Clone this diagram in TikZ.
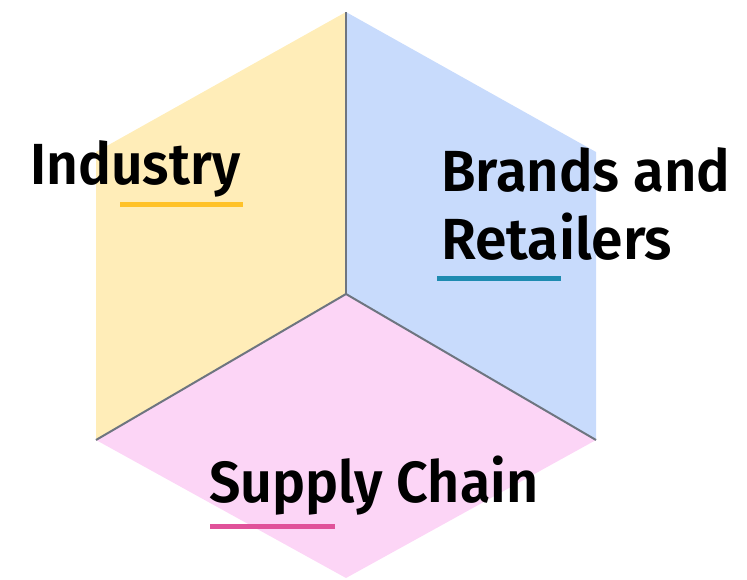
\documentclass[tikz,border=0pt]{standalone}
\usepackage{fontspec}
\setmainfont{Fira Sans}[BoldFont={Fira Sans SemiBold}]
\usepackage{graphicx}
\definecolor{hexyel}{HTML}{FFEDB8}
\definecolor{hexblu}{HTML}{C8DBFC}
\definecolor{hexpnk}{HTML}{FCD5F6}
\definecolor{ulyel}{HTML}{FFC229}
\definecolor{ulblu}{HTML}{1E8BB0}
\definecolor{ulpnk}{HTML}{E0529A}
\definecolor{edgegray}{HTML}{6E7580}
\newcommand{\fitw}[2]{\resizebox{#1}{\height}{#2}}
\begin{document}
\begin{tikzpicture}[x=1pt,y=-1pt,
  lbl/.style={anchor=base west,inner sep=0pt,font=\fontsize{58}{68}\selectfont\bfseries},
  uline/.style={line width=5pt},
  seam/.style={draw=edgegray,line width=2pt}]
\useasboundingbox (0,0) rectangle (747,579);
\coordinate (T) at (346,12);
\coordinate (UL) at (96,152);
\coordinate (LL) at (96,440);
\coordinate (B) at (346,578);
\coordinate (LR) at (596,440);
\coordinate (UR) at (596,152);
\coordinate (C) at (346,294);
\fill[hexyel] (T) -- (UL) -- (LL) -- (C) -- cycle;
\fill[hexblu] (T) -- (C) -- (LR) -- (UR) -- cycle;
\fill[hexpnk] (C) -- (LL) -- (B) -- (LR) -- cycle;
\draw[seam] (T) -- (C);
\draw[seam] (LL) -- (C) -- (LR);
\node[lbl] (ind) at (30,184) {\fitw{210pt}{Industry}};
\node[lbl] (br1) at (441,191) {\fitw{289pt}{Brands and}};
\node[lbl] (br2) at (441,259) {\fitw{231pt}{Retailers}};
\node[lbl] (sup) at (209,502) {\fitw{329pt}{Supply Chain}};
\coordinate (u1a) at (120,204); \coordinate (u1b) at (243,204);
\coordinate (u2a) at (437,278); \coordinate (u2b) at (561,278);
\coordinate (u3a) at (210,526); \coordinate (u3b) at (335,526);
\draw[uline,ulyel] (u1a) -- (u1b);
\draw[uline,ulblu] (u2a) -- (u2b);
\draw[uline,ulpnk] (u3a) -- (u3b);
\end{tikzpicture}
\end{document}
